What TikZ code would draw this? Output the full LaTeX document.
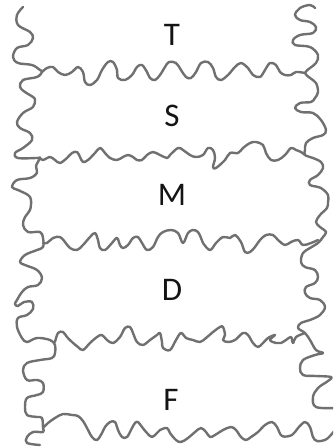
\documentclass[tikz,border=0pt]{standalone}
\usepackage{fontspec}
\setmainfont{Carlito}
\definecolor{wavegray}{RGB}{112,112,112}
\definecolor{labelink}{RGB}{20,20,20}
\tikzset{
  wave/.style={draw=wavegray, line width=2.4pt, line cap=round, line join=round},
  lbl/.style={anchor=base, text=labelink, font=\fontsize{33}{38}\selectfont, inner sep=0pt}
}
\begin{document}
\begin{tikzpicture}[x=1pt,y=-1pt]
\useasboundingbox (0,0) rectangle (333,448);
\clip (0,0) rectangle (333,448);
% left edge
\draw[wave] plot[smooth, tension=0.6] coordinates {
(23,7) (17,15) (18,25) (30,32) (33,38) (28,45) (17,48) (13,57) (18,63) (32,65) (40,70) (42,72)
(37,77) (23,80) (20,87) (25,92) (33,97) (35,100) (33,107) (23,113) (17,122) (20,128) (30,133)
(32,140) (23,148) (15,153) (18,158) (37,158) (40,158) (36,166) (37,173) (30,178) (17,180) (12,187)
(18,190) (28,195) (31,200) (30,210) (25,217) (23,225) (28,232) (40,232) (43,238) (43,247) (37,250)
(25,255) (20,262) (25,265) (37,270) (42,278) (38,285) (28,287) (22,292) (17,300) (15,304) (18,306)
(24,302) (32,302) (33,309) (27,315) (18,318) (17,327) (22,338) (27,342) (37,338) (50,340) (55,345)
(55,353) (52,358) (40,360) (27,363) (23,370) (27,380) (37,380) (43,383) (43,392) (37,395) (27,398)
(25,407) (27,415) (37,417) (42,418) (43,428) (43,432) (33,432) (27,437) (27,443) (40,445)};
% right edge
\draw[wave] plot[smooth, tension=0.6] coordinates {
(315,8) (310,5) (300,8) (295,15) (300,20) (310,22) (316,27) (313,33) (300,35) (293,40) (295,45)
(310,47) (318,55) (316,63) (310,68) (305,73) (310,78) (316,83) (318,92) (315,98) (311,102) (300,103)
(295,108) (301,112) (313,113) (321,120) (326,130) (323,135) (313,138) (306,143) (305,150) (305,155)
(313,158) (321,162) (323,168) (318,175) (310,180) (310,185) (321,188) (328,195) (328,202) (327,208)
(320,215) (316,222) (320,227) (326,232) (323,237) (318,243) (310,248) (303,253) (301,262) (305,267)
(315,270) (318,277) (315,283) (306,287) (305,293) (310,298) (320,300) (325,307) (320,315) (310,320)
(301,323) (298,328) (305,333) (310,340) (316,350) (323,353) (315,355) (303,360) (300,368) (303,375)
(316,376) (331,377) (328,381) (318,388) (313,397) (316,407) (336,408)};
% line 1
\draw[wave] plot[smooth, tension=0.6] coordinates {
(42,72) (47,68) (53,67) (58,72) (65,75) (72,72) (78,67) (83,72) (85,82) (90,85) (97,80) (102,70)
(108,62) (113,62) (117,70) (118,78) (125,80) (132,75) (137,67) (142,65) (147,72) (150,78) (155,80)
(160,75) (165,67) (169,62) (176,63) (181,70) (186,77) (191,78) (196,72) (201,63) (208,62) (213,68)
(216,77) (221,80) (228,75) (235,67) (241,63) (248,68) (253,75) (260,77) (265,70) (270,63) (276,65)
(280,72) (285,75) (291,75) (296,72) (305,73)};
% line 2
\draw[wave] plot[smooth, tension=0.6] coordinates {
(40,158) (43,160) (50,157) (55,160) (60,163) (67,158) (72,153) (77,152) (80,157) (83,162) (88,160)
(95,153) (100,148) (105,153) (110,158) (117,160) (123,157) (128,155) (133,157) (137,160) (142,160)
(147,155) (153,152) (160,155) (167,158) (170,155) (178,148) (183,150) (190,155) (196,157) (203,155)
(208,148) (213,150) (215,158) (213,167) (216,168) (225,160) (230,153) (238,153) (243,148) (250,143)
(256,142) (263,145) (266,153) (271,160) (278,160) (285,155) (291,148) (296,150) (301,152) (305,155)};
% line 3
\draw[wave] plot[smooth, tension=0.6] coordinates {
(43,243) (47,243) (53,238) (60,237) (65,242) (70,248) (77,250) (83,245) (90,237) (95,233) (98,240)
(100,248) (105,250) (112,243) (117,238) (120,245) (123,248) (128,245) (133,238) (138,237) (142,243)
(147,250) (153,247) (158,237) (163,232) (171,230) (178,233) (183,243) (188,233) (193,230) (198,232)
(201,238) (203,243) (210,250) (216,243) (223,237) (230,238) (235,235) (241,242) (245,252) (250,252)
(255,247) (260,240) (266,235) (273,235) (278,240) (285,245) (291,242) (298,240) (303,245) (311,243)
(318,240)};
% line 4
\draw[wave] plot[smooth, tension=0.6] coordinates {
(55,342) (58,333) (63,332) (67,337) (72,342) (78,347) (83,350) (90,343) (97,337) (102,335) (107,340)
(113,343) (120,337) (125,328) (130,327) (133,333) (137,342) (143,345) (150,340) (157,335) (160,333)
(162,342) (163,348) (170,350) (176,340) (181,333) (186,338) (193,340) (200,342) (206,338) (213,332)
(220,327) (223,327) (225,335) (223,340) (228,342) (235,340) (243,333) (248,335) (253,343) (258,347)
(263,343) (268,338) (275,335) (270,340) (276,343) (281,343) (286,340) (291,337) (293,343) (296,337)
(305,333)};
% line 5
\draw[wave] plot[smooth, tension=0.6] coordinates {
(43,428) (48,423) (55,418) (63,414) (72,415) (78,416) (83,421) (87,428) (92,437) (97,440) (102,433)
(105,427) (110,422) (115,422) (118,430) (122,437) (127,437) (132,428) (135,423) (138,422) (142,427)
(147,433) (152,437) (157,433) (160,430) (167,428) (170,433) (176,440) (181,442) (188,438) (195,432)
(201,428) (206,432) (210,437) (215,435) (223,430) (231,427) (236,430) (241,437) (246,440) (251,437)
(258,432) (265,425) (272,422) (277,427) (282,436) (292,435) (298,428) (305,422) (310,427) (313,437)
(317,441) (325,440) (330,436) (335,430)};
% labels
\node[lbl] (t) at (172,45) {T};
\node[lbl] (s) at (172,126.5) {S};
\node[lbl] (m) at (172,205) {M};
\node[lbl] (d) at (172,300) {D};
\node[lbl] (f) at (171,410) {F};
\end{tikzpicture}
\end{document}
